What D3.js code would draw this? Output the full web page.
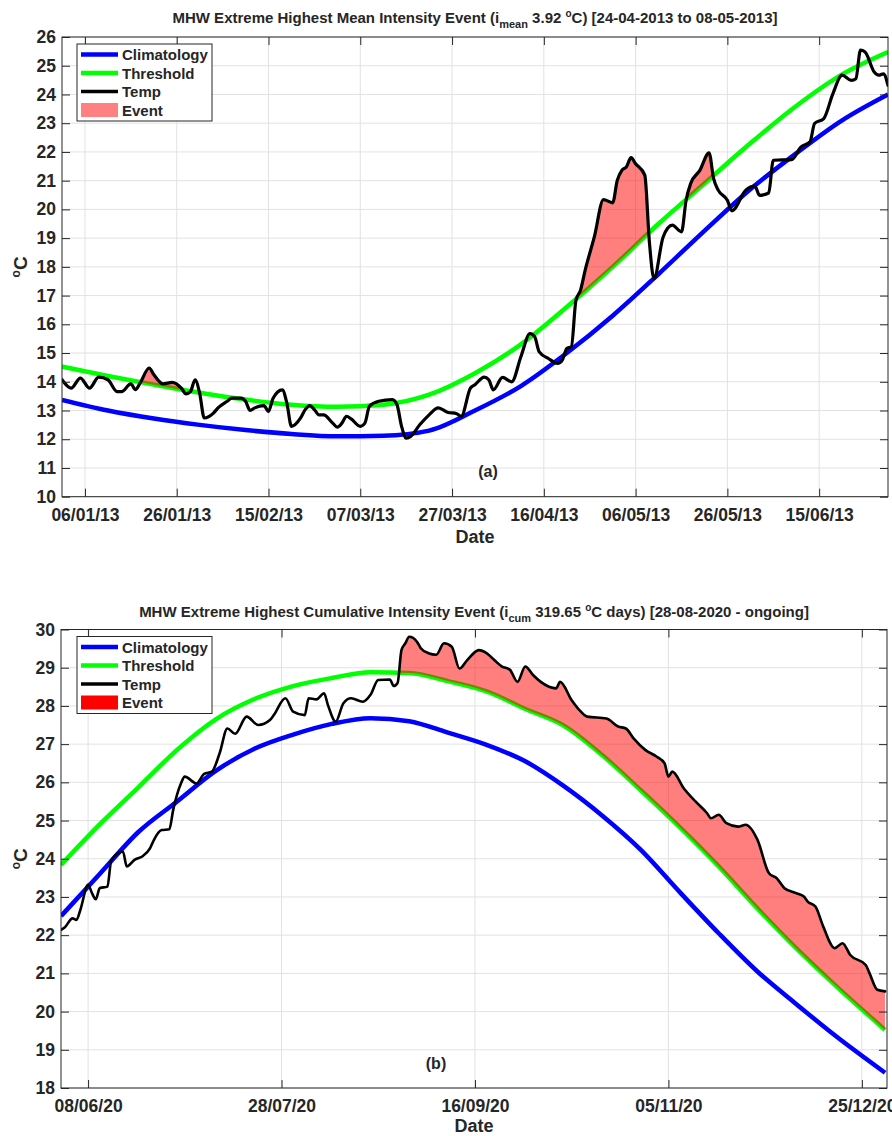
<!DOCTYPE html>
<html><head><meta charset="utf-8">
<script src="https://cdn.jsdelivr.net/npm/d3@7"></script>
<style>
body{margin:0;background:#fff}
svg{display:block}
text{font-family:"Liberation Sans",Arial,Helvetica,sans-serif;font-weight:bold;fill:#262626}
</style>
</head><body>
<svg id="chart" width="892" height="1136"></svg>
<script>
// ---------------- Panel (a) data: 2013 ----------------
const aClimDates = ["2013-01-01","2013-01-11","2013-01-21","2013-01-31","2013-02-10","2013-02-20","2013-03-02","2013-03-12","2013-03-22","2013-04-01","2013-04-11","2013-04-21","2013-05-01","2013-05-11","2013-05-21","2013-05-31","2013-06-10","2013-06-20","2013-06-30"];
const aClimValues = [13.37,13.0,12.72,12.5,12.32,12.18,12.1,12.12,12.3,13.0,13.85,15.0,16.3,17.75,19.25,20.7,21.95,23.1,24.0];
const aThreshValues = [14.53,14.2,13.9,13.62,13.38,13.2,13.13,13.2,13.55,14.3,15.3,16.6,18.0,19.5,20.9,22.3,23.6,24.7,25.48];
const aTempDates = ["2013-01-01","2013-01-03","2013-01-05","2013-01-07","2013-01-09","2013-01-11","2013-01-13","2013-01-14","2013-01-16","2013-01-17","2013-01-18","2013-01-20","2013-01-21","2013-01-23","2013-01-25","2013-01-27","2013-01-28","2013-01-29","2013-01-30","2013-01-31","2013-02-01","2013-02-03","2013-02-04","2013-02-06","2013-02-07","2013-02-09","2013-02-10","2013-02-11","2013-02-12","2013-02-14","2013-02-15","2013-02-16","2013-02-18","2013-02-19","2013-02-20","2013-02-22","2013-02-23","2013-02-24","2013-02-25","2013-02-26","2013-02-27","2013-03-01","2013-03-02","2013-03-03","2013-03-04","2013-03-05","2013-03-07","2013-03-08","2013-03-09","2013-03-11","2013-03-14","2013-03-15","2013-03-16","2013-03-17","2013-03-18","2013-03-20","2013-03-22","2013-03-24","2013-03-26","2013-03-28","2013-03-29","2013-03-31","2013-04-01","2013-04-03","2013-04-04","2013-04-05","2013-04-07","2013-04-09","2013-04-11","2013-04-13","2013-04-14","2013-04-15","2013-04-17","2013-04-19","2013-04-20","2013-04-21","2013-04-22","2013-04-23","2013-04-24","2013-04-25","2013-04-27","2013-04-29","2013-05-01","2013-05-02","2013-05-03","2013-05-04","2013-05-05","2013-05-06","2013-05-08","2013-05-09","2013-05-10","2013-05-12","2013-05-14","2013-05-16","2013-05-17","2013-05-18","2013-05-20","2013-05-22","2013-05-23","2013-05-24","2013-05-26","2013-05-27","2013-05-30","2013-06-01","2013-06-02","2013-06-04","2013-06-05","2013-06-09","2013-06-11","2013-06-13","2013-06-14","2013-06-16","2013-06-18","2013-06-20","2013-06-22","2013-06-23","2013-06-24","2013-06-25","2013-06-27","2013-06-28","2013-06-29","2013-06-30"];
const aTempValues = [14.07,13.78,14.13,13.78,14.16,14.07,13.66,13.66,13.93,13.73,13.95,14.48,14.25,13.93,13.98,13.78,13.58,13.66,14.07,13.6,12.74,12.91,13.09,13.32,13.43,13.43,13.32,13.0,13.09,13.17,12.97,13.43,13.72,13.26,12.45,12.74,13.03,13.17,13.03,12.85,12.85,12.56,12.42,12.56,12.8,12.71,12.45,12.56,13.15,13.32,13.38,13.2,12.45,12.04,12.1,12.51,12.85,13.09,12.94,12.89,12.8,13.78,13.9,14.16,14.07,13.72,14.15,14.0,14.87,15.68,15.57,15.04,14.81,14.64,14.75,15.16,15.22,16.84,17.19,17.88,19.04,20.34,20.23,21.01,21.36,21.48,21.8,21.59,21.19,18.87,17.59,19.04,19.45,19.22,20.32,20.9,21.36,21.97,21.07,20.67,20.32,19.95,20.67,20.81,20.49,20.57,21.71,21.73,22.17,22.35,22.99,23.16,24.03,24.67,24.49,24.55,25.54,25.48,24.78,24.67,24.72,24.32];
const aEventStarts = ["2013-01-17","2013-04-22","2013-05-16"];
const aEventEnds   = ["2013-01-28","2013-05-10","2013-05-24"];
const aXTicks = ["2013-01-06","2013-01-26","2013-02-15","2013-03-07","2013-03-27","2013-04-16","2013-05-06","2013-05-26","2013-06-15"];
const aYTicks = [10,11,12,13,14,15,16,17,18,19,20,21,22,23,24,25,26];

// ---------------- Panel (b) data: 2020 ----------------
const bClimDates = ["2020-06-01","2020-06-11","2020-06-21","2020-07-01","2020-07-11","2020-07-21","2020-07-31","2020-08-10","2020-08-20","2020-08-30","2020-09-09","2020-09-19","2020-09-29","2020-10-09","2020-10-19","2020-10-29","2020-11-08","2020-11-18","2020-11-28","2020-12-08","2020-12-18","2020-12-31"];
const bClimValues = [22.5,23.6,24.7,25.5,26.3,26.88,27.25,27.53,27.68,27.6,27.3,26.98,26.55,25.9,25.12,24.22,23.12,22.05,21.05,20.2,19.38,18.4];
const bThreshValues = [23.84,24.9,25.87,26.85,27.65,28.18,28.52,28.73,28.88,28.86,28.65,28.38,27.92,27.48,26.7,25.78,24.82,23.8,22.7,21.66,20.7,19.52];
const bTempDates = ["2020-06-01","2020-06-02","2020-06-04","2020-06-05","2020-06-06","2020-06-08","2020-06-09","2020-06-10","2020-06-11","2020-06-13","2020-06-14","2020-06-17","2020-06-18","2020-06-20","2020-06-22","2020-06-24","2020-06-25","2020-06-27","2020-06-29","2020-06-30","2020-07-02","2020-07-03","2020-07-06","2020-07-08","2020-07-10","2020-07-12","2020-07-14","2020-07-16","2020-07-19","2020-07-22","2020-07-25","2020-07-26","2020-07-29","2020-07-31","2020-08-03","2020-08-04","2020-08-06","2020-08-08","2020-08-09","2020-08-11","2020-08-13","2020-08-15","2020-08-18","2020-08-20","2020-08-22","2020-08-25","2020-08-26","2020-08-27","2020-08-28","2020-08-29","2020-08-30","2020-09-01","2020-09-02","2020-09-04","2020-09-06","2020-09-08","2020-09-10","2020-09-12","2020-09-14","2020-09-17","2020-09-19","2020-09-21","2020-09-23","2020-09-25","2020-09-27","2020-09-29","2020-10-01","2020-10-03","2020-10-07","2020-10-08","2020-10-11","2020-10-13","2020-10-15","2020-10-20","2020-10-23","2020-10-25","2020-10-27","2020-10-30","2020-11-02","2020-11-04","2020-11-05","2020-11-06","2020-11-09","2020-11-12","2020-11-15","2020-11-16","2020-11-18","2020-11-20","2020-11-23","2020-11-25","2020-11-28","2020-12-01","2020-12-03","2020-12-05","2020-12-08","2020-12-10","2020-12-11","2020-12-13","2020-12-15","2020-12-18","2020-12-20","2020-12-22","2020-12-26","2020-12-27","2020-12-29","2020-12-31"];
const bTempValues = [22.14,22.21,22.44,22.4,22.66,23.32,23.1,22.94,23.23,23.27,23.97,24.19,23.8,23.97,24.06,24.27,24.49,24.75,24.77,25.28,25.97,26.15,25.97,26.22,26.28,26.76,27.41,27.27,27.72,27.5,27.63,27.76,28.2,27.85,27.76,28.2,28.17,28.33,28.02,27.59,28.07,28.2,28.11,28.29,28.68,28.69,28.52,28.6,29.46,29.64,29.81,29.68,29.51,29.38,29.34,29.64,29.55,28.98,29.2,29.46,29.38,29.2,29.03,28.95,28.63,29.03,28.81,28.63,28.46,28.63,28.15,27.89,27.72,27.67,27.46,27.41,27.15,26.85,26.67,26.5,26.15,26.28,25.84,25.5,25.19,25.06,25.15,24.93,24.84,24.89,24.5,23.62,23.49,23.23,23.1,23.01,22.88,22.75,22.23,21.66,21.79,21.48,21.22,21.0,20.57,20.53];
const bEventStarts = ["2020-08-27"];
const bEventEnds   = ["2020-12-31"];
const bXTicks = ["2020-06-08","2020-07-28","2020-09-16","2020-11-05","2020-12-25"];
const bYTicks = [18,19,20,21,22,23,24,25,26,27,28,29,30];

const legendLabels = ["Climatology","Threshold","Temp","Event"];

// ---------------- drawing ----------------
const parse = d3.timeParse("%Y-%m-%d");
const svg = d3.select("#chart");
const defs = svg.append("defs");
const zip = (ds, vs) => ds.map((d, i) => ({date: parse(d), v: vs[i]}));

function panel(cfg) {
  const x = d3.scaleTime().domain(cfg.xDomain).range([cfg.left, cfg.right]);
  const y = d3.scaleLinear().domain(cfg.yDomain).range([cfg.bottom, cfg.top]);
  const g = svg.append("g");
  const W = cfg.right - cfg.left, H = cfg.bottom - cfg.top;
  const xt = cfg.xTicks.map(parse);

  // grid
  g.append("g").selectAll("line").data(xt).join("line")
    .attr("x1", d => x(d)).attr("x2", d => x(d)).attr("y1", cfg.top).attr("y2", cfg.bottom)
    .attr("stroke", "#e2e2e2").attr("stroke-width", 1);
  g.append("g").selectAll("line").data(cfg.yTicks).join("line")
    .attr("y1", d => y(d)).attr("y2", d => y(d)).attr("x1", cfg.left).attr("x2", cfg.right)
    .attr("stroke", "#e2e2e2").attr("stroke-width", 1);

  const clipId = "clip" + cfg.id;
  defs.append("clipPath").attr("id", clipId).append("rect")
    .attr("x", cfg.left).attr("y", cfg.top).attr("width", W).attr("height", H);
  const plot = g.append("g").attr("clip-path", `url(#${clipId})`);

  const clim = zip(cfg.climDates, cfg.clim);
  const thr = zip(cfg.climDates, cfg.thresh);
  const temp = zip(cfg.tempDates, cfg.temp);

  const smooth = d3.line().curve(d3.curveMonotoneX).x(d => x(d.date)).y(d => y(d.v));

  plot.append("path").attr("d", smooth(clim)).attr("fill", "none")
    .attr("stroke", "#0000ff").attr("stroke-width", 4.5).attr("stroke-linejoin", "round");
  plot.append("path").attr("d", smooth(thr)).attr("fill", "none")
    .attr("stroke", "#00ff00").attr("stroke-width", 4.5).attr("stroke-linejoin", "round");

  // event fill: area under temp, clipped to region above threshold
  const thrClip = "thr" + cfg.id;
  defs.append("clipPath").attr("id", thrClip).append("path")
    .attr("d", d3.area().curve(d3.curveMonotoneX).x(d => x(d.date)).y0(cfg.top).y1(d => y(d.v))(thr));
  const ev = plot.append("g").attr("clip-path", `url(#${thrClip})`);
  const area = d3.area().curve(d3.curveMonotoneX).x(d => x(d.date)).y0(cfg.bottom).y1(d => y(d.v));
  cfg.evStarts.forEach((s, i) => {
    const s0 = parse(s), e0 = parse(cfg.evEnds[i]);
    const pts = temp.filter(d => d.date >= s0 && d.date <= e0);
    ev.append("path").attr("d", area(pts)).attr("fill", "#ff0000").attr("fill-opacity", 0.5);
  });

  plot.append("path").attr("d", smooth(temp)).attr("fill", "none")
    .attr("stroke", "#000").attr("stroke-width", cfg.tempWidth)
    .attr("stroke-linejoin", "round").attr("stroke-linecap", "round");

  // axes (ticks inward)
  const styleAxis = sel => {
    sel.select(".domain").remove();
    sel.selectAll("line").attr("stroke", "#262626");
    sel.selectAll("text").attr("font-size", 17.5).attr("fill", "#262626");
  };
  g.append("g").attr("transform", `translate(0,${cfg.bottom})`)
    .call(d3.axisBottom(x).tickValues(xt).tickFormat(d3.timeFormat("%d/%m/%y"))
      .tickSize(-8).tickSizeOuter(0).tickPadding(11.5)).call(styleAxis);
  g.append("g").attr("transform", `translate(0,${cfg.top})`)
    .call(d3.axisTop(x).tickValues(xt).tickFormat("").tickSize(-8).tickSizeOuter(0)).call(styleAxis);
  g.append("g").attr("transform", `translate(${cfg.left},0)`)
    .call(d3.axisLeft(y).tickValues(cfg.yTicks).tickFormat(d3.format("d"))
      .tickSize(-8).tickSizeOuter(0).tickPadding(6)).call(styleAxis);
  g.append("g").attr("transform", `translate(${cfg.right},0)`)
    .call(d3.axisRight(y).tickValues(cfg.yTicks).tickFormat("").tickSize(-8).tickSizeOuter(0)).call(styleAxis);

  g.append("rect").attr("x", cfg.left).attr("y", cfg.top).attr("width", W).attr("height", H)
    .attr("fill", "none").attr("stroke", "#262626").attr("stroke-width", 1);

  // title
  const t = g.append("text").attr("x", (cfg.left + cfg.right) / 2).attr("y", cfg.titleY)
    .attr("text-anchor", "middle").attr("font-size", 15);
  t.append("tspan").text(cfg.title[0]);
  t.append("tspan").attr("font-size", 11).attr("dy", 5).text(cfg.title[1]);
  t.append("tspan").attr("dy", -5).text(cfg.title[2]);
  t.append("tspan").attr("font-size", 10).attr("dy", -6).text("o");
  t.append("tspan").attr("dy", 6).text(cfg.title[3]);

  // axis labels
  g.append("text").attr("x", (cfg.left + cfg.right) / 2).attr("y", cfg.bottom + cfg.dateDy)
    .attr("text-anchor", "middle").attr("font-size", 18).text("Date");
  const yl = g.append("text").attr("transform", `translate(27,${(cfg.top + cfg.bottom) / 2}) rotate(-90)`)
    .attr("text-anchor", "middle").attr("font-size", 19);
  yl.append("tspan").attr("font-size", 12).attr("dy", -7).text("o");
  yl.append("tspan").attr("dy", 7).text("C");

  // panel label
  g.append("text").attr("x", cfg.labelX).attr("y", cfg.labelY).attr("text-anchor", "middle")
    .attr("font-size", 16).text(cfg.label);

  // legend
  const L = g.append("g");
  L.append("rect").attr("x", 77).attr("y", cfg.top + 7).attr("width", 135).attr("height", 77)
    .attr("fill", "#fff").attr("stroke", "#262626").attr("stroke-width", 1);
  const colors = ["#0000ff", "#00ff00", "#000000"];
  legendLabels.forEach((lab, i) => {
    const cy = cfg.top + 17.5 + i * 18.5;
    if (i < 3) {
      L.append("line").attr("x1", 81).attr("x2", 118).attr("y1", cy).attr("y2", cy)
        .attr("stroke", colors[i]).attr("stroke-width", i === 2 ? 3.5 : 4.5);
    } else {
      L.append("rect").attr("x", 81).attr("y", cy - 7).attr("width", 37).attr("height", 14)
        .attr("fill", cfg.legendEventColor);
    }
    L.append("text").attr("x", 122).attr("y", cy + 5.5).attr("font-size", 15).text(lab);
  });
}

panel({
  id: "a", left: 62, right: 888, top: 37, bottom: 496.7,
  xDomain: [parse("2013-01-01"), parse("2013-06-30")], yDomain: [10, 26],
  xTicks: aXTicks, yTicks: aYTicks,
  climDates: aClimDates, clim: aClimValues, thresh: aThreshValues,
  tempDates: aTempDates, temp: aTempValues, tempWidth: 3.2,
  evStarts: aEventStarts, evEnds: aEventEnds,
  title: ["MHW Extreme Highest Mean Intensity Event (i", "mean", " 3.92 ", "C) [24-04-2013 to 08-05-2013]"],
  titleY: 23, dateDy: 46, label: "(a)", labelX: 488, labelY: 477, legendEventColor: "#ff8080"
});
panel({
  id: "b", left: 61, right: 887, top: 629.5, bottom: 1088,
  xDomain: [parse("2020-06-01"), new Date(2020, 11, 31, 12)], yDomain: [18, 30],
  xTicks: bXTicks, yTicks: bYTicks,
  climDates: bClimDates, clim: bClimValues, thresh: bThreshValues,
  tempDates: bTempDates, temp: bTempValues, tempWidth: 2.6,
  evStarts: bEventStarts, evEnds: bEventEnds,
  title: ["MHW Extreme Highest Cumulative Intensity Event (i", "cum", " 319.65 ", "C days) [28-08-2020 - ongoing]"],
  titleY: 617, dateDy: 44, label: "(b)", labelX: 436, labelY: 1069, legendEventColor: "#ff0000"
});
</script>
</body></html>
